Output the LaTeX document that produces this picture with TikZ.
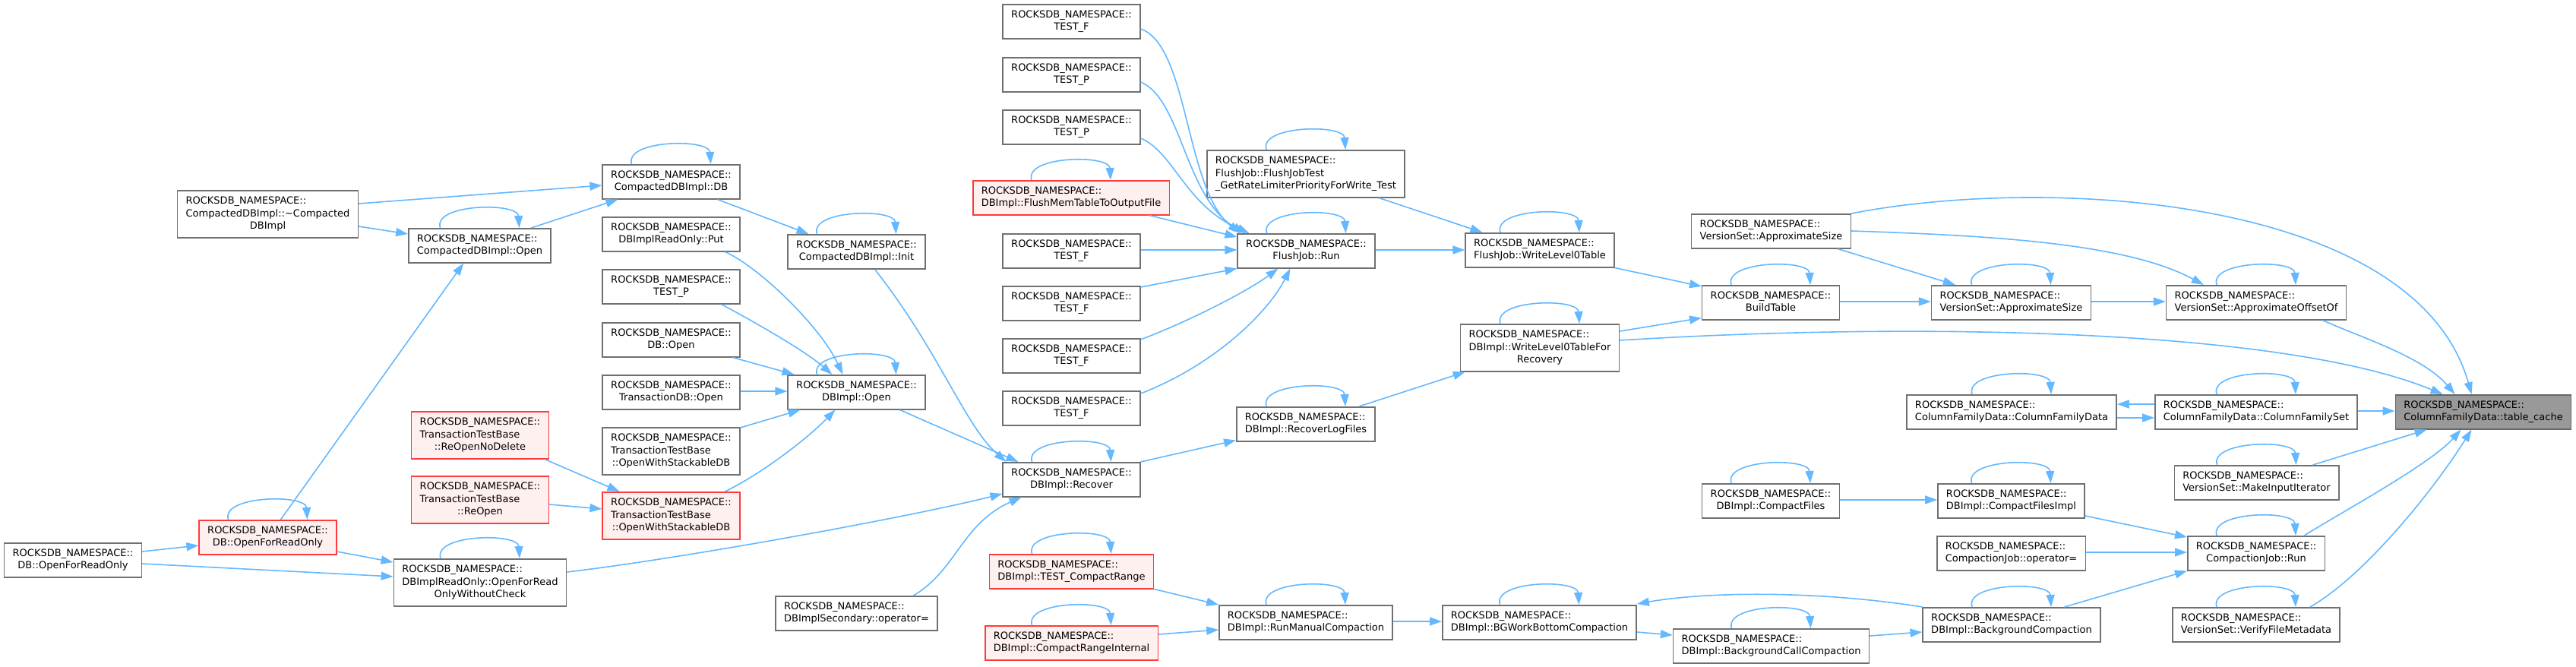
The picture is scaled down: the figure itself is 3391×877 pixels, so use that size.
\documentclass[tikz,border=0pt]{standalone}
\usepackage{fontspec}
\setmainfont{DejaVu Sans}
\usetikzlibrary{arrows.meta,calc}
\definecolor{edgec}{HTML}{63B8FF}
\definecolor{boxc}{HTML}{707070}
\definecolor{redc}{HTML}{FF3A3A}
\definecolor{redf}{HTML}{FFF0F0}
\definecolor{grayf}{HTML}{999999}
\definecolor{grayb}{HTML}{666666}
\newcommand\lab[1]{\begin{tabular}{@{}l@{}}ROCKSDB\_NAMESPACE::\\\multicolumn{1}{@{}c@{}}{#1}\end{tabular}}
\newcommand\labiii[2]{\begin{tabular}{@{}l@{}}ROCKSDB\_NAMESPACE::\\#1\\\multicolumn{1}{@{}c@{}}{#2}\end{tabular}}
\tikzset{
  box2/.style={draw=boxc, fill=white, line width=1.5bp, anchor=north, inner xsep=11bp, inner ysep=3bp, minimum height=45bp, font=\fontsize{13bp}{16.7bp}\selectfont},
  box3/.style={box2, minimum height=62bp},
  redn/.style={draw=redc, fill=redf},
  grayn/.style={draw=grayb, fill=grayf},
  cedge/.style={draw=edgec, line width=1.6bp, -{Triangle[length=16bp,width=11bp]}}
}
\begin{document}
\begin{tikzpicture}[x=1bp,y=-1bp]
\useasboundingbox (0,0) rectangle (3391,877);
% rank 1
\node[box2] (ofro) at (96,714) {\lab{DB::OpenForReadOnly}};
% rank 2
\node[box3] (dtor) at (352.5,250) {\labiii{CompactedDBImpl::\textasciitilde Compacted}{DBImpl}};
\node[box2,redn] (ofror) at (352.5,684) {\lab{DB::OpenForReadOnly}};
% rank 3
\node[box2] (copen) at (631.5,300) {\lab{CompactedDBImpl::Open}};
\node[box3,redn] (rnd) at (632,541) {\labiii{TransactionTestBase}{::ReOpenNoDelete}};
\node[box3,redn] (reo) at (632,626) {\labiii{TransactionTestBase}{::ReOpen}};
\node[box3] (ofrowc) at (632,735) {\labiii{DBImplReadOnly::OpenForRead}{OnlyWithoutCheck}};
% rank 4
\node[box2] (cdb) at (883.5,216) {\lab{CompactedDBImpl::DB}};
\node[box2] (put) at (883.5,285) {\lab{DBImplReadOnly::Put}};
\node[box2] (tp0) at (883.5,354) {\lab{TEST\_P}};
\node[box2] (dbo) at (883.5,424) {\lab{DB::Open}};
\node[box2] (txo) at (883.5,493) {\lab{TransactionDB::Open}};
\node[box3] (ows) at (883.5,562) {\labiii{TransactionTestBase}{::OpenWithStackableDB}};
\node[box3,redn] (owsr) at (883.5,647) {\labiii{TransactionTestBase}{::OpenWithStackableDB}};
% rank 5
\node[box2] (cinit) at (1127.5,308) {\lab{CompactedDBImpl::Init}};
\node[box2] (dopen) at (1127.5,493) {\lab{DBImpl::Open}};
\node[box2] (sec) at (1127.5,784) {\lab{DBImplSecondary::operator=}};
% rank 6
\node[box2] (tf1) at (1410.5,5) {\lab{TEST\_F}};
\node[box2] (tp1) at (1410.5,75) {\lab{TEST\_P}};
\node[box2] (tp2) at (1410.5,144) {\lab{TEST\_P}};
\node[box2,redn] (fm) at (1410,237) {\lab{DBImpl::FlushMemTableToOutputFile}};
\node[box2] (tf2) at (1410.5,307) {\lab{TEST\_F}};
\node[box2] (tf3) at (1410.5,376) {\lab{TEST\_F}};
\node[box2] (tf4) at (1410.5,445) {\lab{TEST\_F}};
\node[box2] (tf5) at (1410.5,514) {\lab{TEST\_F}};
\node[box2] (rec) at (1410.5,608) {\lab{DBImpl::Recover}};
\node[box2,redn] (tcr) at (1410.5,729) {\lab{DBImpl::TEST\_CompactRange}};
\node[box2,redn] (cri) at (1410.5,823) {\lab{DBImpl::CompactRangeInternal}};
% rank 7
\node[box3] (fjt) at (1719,197) {\labiii{FlushJob::FlushJobTest}{\_GetRateLimiterPriorityForWrite\_Test}};
\node[box2] (run) at (1719.5,307) {\lab{FlushJob::Run}};
\node[box2] (rlf) at (1719,535) {\lab{DBImpl::RecoverLogFiles}};
\node[box2] (rmc) at (1719,796) {\lab{DBImpl::RunManualCompaction}};
% rank 8
\node[box2] (wl0) at (2027,306) {\lab{FlushJob::WriteLevel0Table}};
\node[box3] (wl0r) at (2027,426) {\labiii{DBImpl::WriteLevel0TableFor}{Recovery}};
\node[box2] (bgw) at (2026.5,796) {\lab{DBImpl::BGWorkBottomCompaction}};
% rank 9
\node[box2] (as1) at (2331.5,281) {\lab{VersionSet::ApproximateSize}};
\node[box2] (bt) at (2331,375) {\lab{BuildTable}};
\node[box2] (cf) at (2331,636) {\lab{DBImpl::CompactFiles}};
\node[box2] (bcc) at (2331.5,827) {\lab{DBImpl::BackgroundCallCompaction}};
% rank 10
\node[box2] (as2) at (2647.5,375) {\lab{VersionSet::ApproximateSize}};
\node[box2] (cfd) at (2648,519) {\lab{ColumnFamilyData::ColumnFamilyData}};
\node[box2] (cfi) at (2647.5,636) {\lab{DBImpl::CompactFilesImpl}};
\node[box2] (cjop) at (2647.5,705) {\lab{CompactionJob::operator=}};
\node[box2] (bc) at (2648,799) {\lab{DBImpl::BackgroundCompaction}};
% rank 11
\node[box2] (aoo) at (2970,375) {\lab{VersionSet::ApproximateOffsetOf}};
\node[box2] (cfs) at (2970,519) {\lab{ColumnFamilyData::ColumnFamilySet}};
\node[box2] (mii) at (2970.5,612) {\lab{VersionSet::MakeInputIterator}};
\node[box2] (cjr) at (2970,705) {\lab{CompactionJob::Run}};
\node[box2] (vfm) at (2970,799) {\lab{VersionSet::VerifyFileMetadata}};
% rank 12
\node[box2,grayn] (tc) at (3269,519) {\lab{ColumnFamilyData::table\_cache}};

% self loops
\foreach \n in {copen,ofror,ofrowc,cdb,cinit,dopen,rec,fm,fjt,run,rlf,tcr,cri,rmc,wl0,wl0r,bt,as2,cfd,bgw,bcc,cf,cfi,bc,aoo,cfs,mii,cjr,vfm}
  \draw[cedge] ($(\n.north)+(-52,0)$) .. controls ($(\n.north)+(-62,-32)$) and ($(\n.north)+(50,-34)$) .. ($(\n.north)+(52,0)$);

% edges
\draw[cedge] ($(ofro.north east)+(0,12)$) -- ($(ofror.north west)+(0,34)$);
\draw[cedge] ($(ofro.north east)+(0,28)$) -- ($(ofrowc.north west)+(0,24)$);
\draw[cedge] ($(ofror.north east)+(0,42)$) -- ($(ofrowc.north west)+(0,5)$);
\draw[cedge] ($(ofror.north west)+(108,0)$) -- ($(copen.south west)+(73,0)$);
\draw[cedge] ($(dtor.north east)+(0,18)$) -- ($(cdb.north west)+(0,28)$);
\draw[cedge] ($(dtor.north east)+(0,48)$) -- ($(copen.north west)+(0,8)$);
\draw[cedge] ($(copen.north west)+(162,0)$) -- ($(cdb.south west)+(21,0)$);
\draw[cedge] ($(rnd.south west)+(176,0)$) -- ($(owsr.north west)+(23,0)$);
\draw[cedge] ($(reo.north east)+(0,38)$) -- ($(owsr.north west)+(0,23)$);
\draw[cedge] ($(ofrowc.north east)+(0,18)$) .. controls (900,735) and (1200,680) .. ($(rec.north west)+(0,42)$);
\draw[cedge] ($(cdb.south west)+(152,0)$) -- ($(cinit.north west)+(28,0)$);
\draw[cedge] ($(put.south west)+(162,0)$) .. controls (1000,352) and (1080,430) .. ($(dopen.north west)+(73,0)$);
\draw[cedge] ($(tp0.south west)+(157,0)$) .. controls (990,422) and (1060,462) .. ($(dopen.north west)+(59,0)$);
\draw[cedge] ($(dbo.south west)+(172,0)$) -- ($(dopen.north west)+(9,0)$);
\draw[cedge] ($(txo.north east)+(0,22)$) -- ($(dopen.north west)+(0,22)$);
\draw[cedge] ($(ows.north east)+(0,1)$) -- ($(dopen.south west)+(17,0)$);
\draw[cedge] ($(owsr.north west)+(162,0)$) .. controls (1000,625) and (1060,580) .. ($(dopen.south west)+(63,0)$);
\draw[cedge] ($(cinit.south west)+(115,0)$) .. controls (1235,460) and (1270,560) .. ($(rec.north west)+(5,0)$);
\draw[cedge] ($(dopen.south west)+(148,0)$) -- ($(rec.north west)+(21,0)$);
\draw[cedge] ($(sec.north west)+(182,0)$) .. controls (1260,750) and (1265,690) .. ($(rec.south west)+(25,0)$);
\draw[cedge] ($(tf1.north east)+(0,33)$) .. controls (1565,60) and (1560,250) .. ($(run.north west)+(4,0)$);
\draw[cedge] ($(tp1.north east)+(0,33)$) .. controls (1555,130) and (1560,260) .. ($(run.north west)+(10,0)$);
\draw[cedge] ($(tp2.north east)+(0,38)$) .. controls (1545,200) and (1560,270) .. ($(run.north west)+(16,0)$);
\draw[cedge] ($(fm.south west)+(233,0)$) -- ($(run.north west)+(0,5)$);
\draw[cedge] ($(tf2.north east)+(0,22)$) -- ($(run.north west)+(0,22)$);
\draw[cedge] ($(tf3.north east)+(0,2)$) -- (run.south west);
\draw[cedge] ($(tf4.north east)+(0,2)$) .. controls (1560,425) and (1640,385) .. ($(run.south west)+(54,0)$);
\draw[cedge] ($(tf5.north east)+(0,4)$) .. controls (1600,480) and (1670,410) .. ($(run.south west)+(70,0)$);
\draw[cedge] ($(fjt.south west)+(227,0)$) -- ($(wl0.north west)+(23,0)$);
\draw[cedge] ($(run.north east)+(0,22)$) -- ($(wl0.north west)+(0,23)$);
\draw[cedge] (rec.north east) -- ($(rlf.south west)+(0,-2)$);
\draw[cedge] ($(rlf.north west)+(162,0)$) -- ($(wl0r.south west)+(7,0)$);
\draw[cedge] (wl0.south east) -- ($(bt.north west)+(0,2)$);
\draw[cedge] ($(wl0r.north east)+(0,10)$) -- ($(bt.south west)+(0,-3)$);
\draw[cedge] ($(wl0r.north east)+(0,22)$) .. controls (2500,425) and (3000,430) .. ($(tc.north west)+(63,0)$);
\draw[cedge] (as1.north east) .. controls (2700,230) and (3180,260) .. ($(tc.north west)+(101,0)$);
\draw[cedge] ($(as1.north east)+(0,23)$) .. controls (2620,310) and (2800,320) .. ($(aoo.north west)+(50,0)$);
\draw[cedge] ($(as1.south east)+(-18,0)$) -- ($(as2.north west)+(32,0)$);
\draw[cedge] ($(bt.north east)+(0,22)$) -- ($(as2.north west)+(0,22)$);
\draw[cedge] ($(as2.north east)+(0,22)$) -- ($(aoo.north west)+(0,22)$);
\draw[cedge] ($(aoo.south east)+(-32,0)$) .. controls (3110,445) and (3190,470) .. ($(tc.north west)+(79,0)$);
\draw[cedge] ($(cfd.north east)+(0,31)$) -- ($(cfs.north west)+(0,31)$);
\draw[cedge] ($(cfs.north west)+(0,13)$) -- ($(cfd.north east)+(0,13)$);
\draw[cedge] ($(cfs.north east)+(0,22)$) -- ($(tc.north west)+(0,22)$);
\draw[cedge] ($(mii.north east)+(-35,0)$) -- ($(tc.south west)+(42,0)$);
\draw[cedge] ($(cjr.north east)+(-28,0)$) .. controls (3090,670) and (3200,610) .. ($(tc.south west)+(87,0)$);
\draw[cedge] ($(vfm.north east)+(-40,0)$) .. controls (3110,760) and (3200,650) .. ($(tc.south west)+(101,0)$);
\draw[cedge] ($(cf.north east)+(0,22)$) -- ($(cfi.north west)+(0,22)$);
\draw[cedge] ($(cfi.north east)+(0,43)$) -- ($(cjr.north west)+(0,2)$);
\draw[cedge] ($(cjop.north east)+(0,22)$) -- ($(cjr.north west)+(0,22)$);
\draw[cedge] ($(bc.north west)+(187,0)$) -- (cjr.south west);
\draw[cedge] (tcr.south east) -- (rmc.north west);
\draw[cedge] ($(cri.north east)+(0,12)$) -- ($(rmc.north west)+(0,33)$);
\draw[cedge] ($(rmc.north east)+(0,22)$) -- ($(bgw.north west)+(0,22)$);
\draw[cedge] ($(bgw.north east)+(0,36)$) -- ($(bcc.north west)+(0,9)$);
\draw[cedge] ($(bcc.north east)+(0,10)$) -- ($(bc.north west)+(0,33)$);
\draw[cedge] (bc.north west) .. controls (2400,778) and (2250,778) .. ($(bgw.north east)+(0,-1)$);
\end{tikzpicture}
\end{document}
